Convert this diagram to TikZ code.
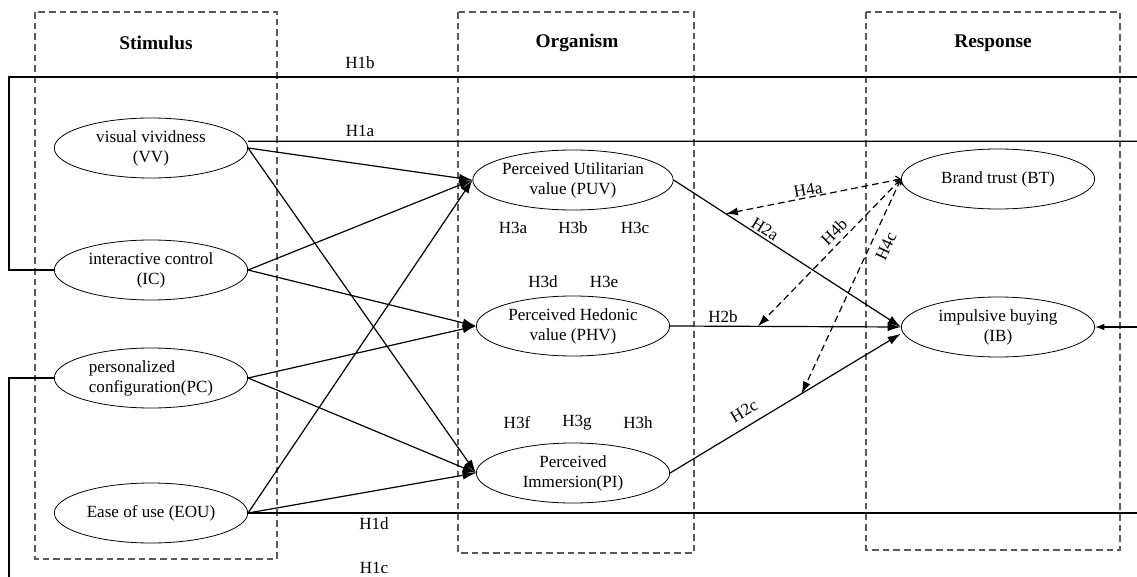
\documentclass[tikz,border=0pt]{standalone}
\usepackage{fontspec}
\setmainfont{Liberation Serif}
\usetikzlibrary{arrows.meta,shapes.geometric}
\begin{document}
\begin{tikzpicture}[x=0.75pt,y=-0.75pt,
 ell/.style={draw,ellipse,line width=0.6pt,minimum width=145pt,minimum height=45pt,inner sep=0pt,align=center,font=\fontsize{12.8}{15}\selectfont},
 grp/.style={draw=black!65,dash pattern=on 5pt off 3pt,line width=0.8pt},
 ttl/.style={font=\fontsize{14.5}{17}\selectfont\bfseries},
 lbl/.style={font=\fontsize{12.8}{15}\selectfont,inner sep=0.5pt},
 con/.style={line width=0.9pt},
 arr/.style={con,-{Latex[length=10pt,width=6.5pt]}},
 sarr/.style={con,-{Latex[length=7pt,width=5pt]}},
 darr/.style={line width=0.9pt,dash pattern=on 5pt off 3pt,{Straight Barb[length=3pt,width=6pt]}-{Latex[length=9pt,width=6pt]}},
]
\useasboundingbox (0,0) rectangle (1137,577);
% group boxes
\draw[grp] (35,12) rectangle (277,559);
\draw[grp] (458,12) rectangle (694,553);
\draw[grp] (866,12) rectangle (1120,550);
\node[ttl] (tS) at (156,43) {Stimulus};
\node[ttl] (tO) at (577,43) {Organism};
\node[ttl] (tR) at (993,43) {Response};
% constructs
\node[ell] (VV) at (151,148) {visual vividness\\(VV)};
\node[ell] (IC) at (151,270) {interactive control\\(IC)};
\node[ell,align=left] (PC) at (151,378) {personalized\\configuration(PC)};
\node[ell] (EOU) at (151,513) {Ease of use (EOU)};
\node[ell] (PUV) at (573,180) {Perceived Utilitarian\\value (PUV)};
\node[ell] (PHV) at (573,326) {Perceived Hedonic\\value (PHV)};
\node[ell] (PI) at (573,473) {Perceived\\Immersion(PI)};
\node[ell] (BT) at (998,179) {Brand trust (BT)};
\node[ell] (IB) at (998,327) {impulsive buying\\(IB)};
% edge coordinates
\coordinate (c1) at (9,77);
\coordinate (c2) at (9,577);
\coordinate (r1b) at (1137,77);
\coordinate (r1a) at (1137,141.3);
\coordinate (r1d) at (1137,513);
\coordinate (rib) at (1137,327);
% H1 lines
\draw[con] (IC.west) -| (c1) -- (r1b);
\draw[con] ([yshift=5pt]VV.east) -- (r1a);
\draw[con] (EOU.east) -- (r1d);
\draw[con] (PC.west) -| (c2);
\draw[sarr] (rib) -- (IB.east);
% stimulus -> organism
\draw[arr] (VV.east) -- (PUV.west);
\draw[arr] (VV.east) -- (PI.west);
\draw[arr] (IC.east) -- (PUV.west);
\draw[arr] (IC.east) -- (PHV.west);
\draw[arr] (PC.east) -- (PHV.west);
\draw[arr] (PC.east) -- (PI.west);
\draw[arr] (EOU.east) -- (PUV.west);
\draw[arr] (EOU.east) -- (PI.west);
% organism -> response
\draw[arr] (PUV.east) -- (IB.west);
\draw[arr] (PHV.east) -- (IB.west);
\draw[arr] (PI.east) -- ([yshift=-5pt]IB.west);
\path (PUV.east) -- (IB.west) coordinate[pos=0.23] (h4a);
\path (PHV.east) -- (IB.west) coordinate[pos=0.38] (h4b);
\path (PI.east) -- ([yshift=-5pt]IB.west) coordinate[pos=0.57] (h4c);
\draw[darr] (BT.west) -- (h4a);
\draw[darr] (BT.west) -- (h4b);
\draw[darr] (BT.west) -- (h4c);
% labels
\node[lbl] (l1b) at (360,63) {H1b};
\node[lbl] (l1a) at (360,131) {H1a};
\node[lbl] (l1d) at (374,524) {H1d};
\node[lbl] (l1c) at (374,568) {H1c};
\node[lbl] (l3a) at (513,228) {H3a};
\node[lbl] (l3b) at (573,228) {H3b};
\node[lbl] (l3c) at (635,228) {H3c};
\node[lbl] (l3d) at (543,282) {H3d};
\node[lbl] (l3e) at (604,282) {H3e};
\node[lbl] (l3f) at (517,423) {H3f};
\node[lbl] (l3g) at (577,423) {H3g};
\node[lbl] (l3h) at (638,423) {H3h};
\node[lbl,rotate=-32] (l2a) at (765,229) {H2a};
\node[lbl] (l2b) at (723,317) {H2b};
\node[lbl,rotate=31] (l2c) at (744,411) {H2c};
\node[lbl,rotate=10] (l4a) at (808,190) {H4a};
\node[lbl,rotate=45] (l4b) at (834,232) {H4b};
\node[lbl,rotate=65] (l4c) at (886,246) {H4c};
\end{tikzpicture}
\end{document}
